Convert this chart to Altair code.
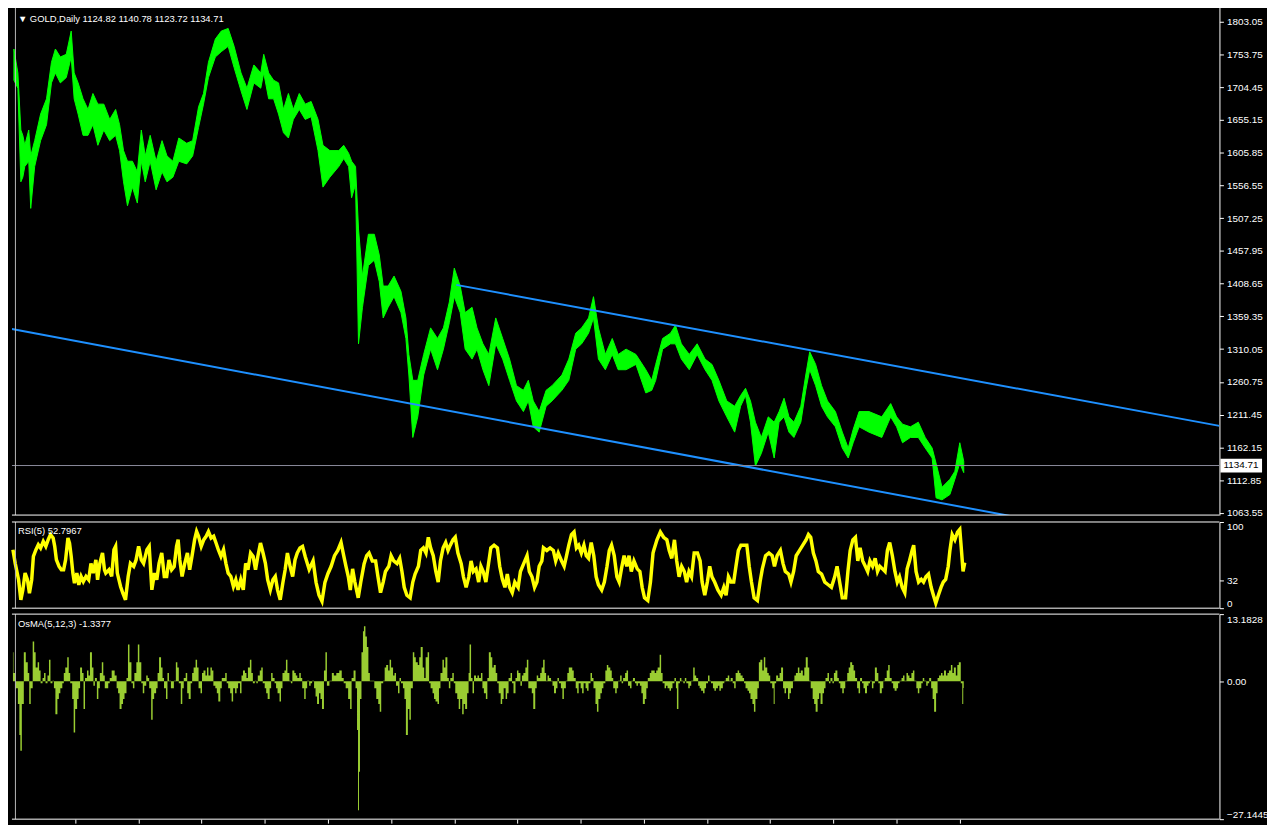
import altair as alt
import pandas as pd

TITLE_MAIN = "\u25BC  GOLD,Daily  1124.82 1140.78 1123.72 1134.71"
TITLE_RSI = "RSI(5) 52.7967"
TITLE_OSMA = "OsMA(5,12,3) -1.3377"
LAST_PRICE = 1134.71

price_ticks = [1803.05, 1753.75, 1704.45, 1655.15, 1605.85, 1556.55, 1507.25, 1457.95,
               1408.65, 1359.35, 1310.05, 1260.75, 1211.45, 1162.15, 1112.85, 1063.55]
rsi_ticks = [0, 32, 100]
osma_ticks = [-27.1445, 0, 13.1828]
time_ticks = [69, 133, 197, 261, 325, 389, 453, 517, 581, 645, 709, 773, 837, 901, 965]

# (bar, high, low)
price = [
(7,1762,1715),(11,1726,1703),(14,1640,1562),(16,1632,1569),(18,1617,1585),(22,1640,1593),(24,1601,1522),
(28,1624,1585),(34,1664,1624),(40,1687,1648),(45,1742,1711),(49,1762,1726),(54,1750,1711),(60,1754,1719),
(65,1789,1750),(68,1726,1687),(72,1711,1664),(77,1687,1632),(82,1671,1632),(87,1695,1648),(92,1679,1617),
(98,1679,1640),(104,1656,1624),(110,1671,1632),(114,1648,1609),(118,1609,1562),(122,1593,1526),(127,1593,1554),
(132,1577,1530),(136,1640,1593),(140,1601,1562),(145,1632,1593),(151,1593,1550),(157,1624,1577),(162,1601,1562),
(168,1593,1569),(174,1628,1593),(182,1620,1589),(188,1624,1601),(194,1675,1644),(199,1695,1679),(204,1742,1719),
(211,1777,1750),(217,1789,1758),(224,1793,1766),(230,1766,1734),(237,1726,1699),(243,1703,1671),(250,1738,1711),
(257,1726,1703),(260,1754,1726),(265,1726,1687),(270,1715,1687),(275,1711,1664),(280,1671,1636),(285,1695,1628),
(290,1671,1656),(296,1695,1671),(302,1679,1656),(308,1683,1660),(315,1656,1609),(320,1617,1554),(327,1609,1569),
(336,1609,1585),(341,1617,1597),(346,1605,1585),(349,1593,1538),(353,1585,1558),(356,1491,1318),(360,1420,1373),
(366,1483,1436),(372,1483,1444),(377,1452,1412),(381,1405,1357),(386,1405,1373),(392,1420,1389),(399,1397,1365),
(404,1357,1326),(407,1302,1271),(411,1263,1177),(416,1263,1208),(422,1302,1271),(429,1342,1310),(436,1326,1279),
(442,1342,1310),(448,1381,1350),(453,1432,1389),(459,1405,1365),(464,1365,1310),(471,1373,1295),(476,1342,1310),
(482,1318,1279),(488,1302,1255),(495,1357,1318),(502,1326,1295),(509,1295,1263),(516,1255,1232),(523,1248,1216),
(528,1263,1232),(533,1232,1193),(539,1216,1185),(546,1248,1224),(552,1255,1232),(562,1271,1248),(569,1295,1263),
(576,1334,1310),(582,1342,1318),(589,1357,1334),(594,1389,1357),(599,1342,1295),(606,1302,1279),(613,1326,1302),
(619,1302,1279),(627,1310,1279),(637,1302,1287),(647,1279,1244),(653,1263,1248),(657,1287,1263),(664,1326,1310),
(672,1334,1318),(677,1346,1318),(683,1318,1295),(691,1302,1279),(699,1318,1302),(707,1295,1279),(714,1287,1263),
(721,1263,1232),(729,1232,1208),(737,1224,1185),(743,1240,1224),(748,1251,1240),(753,1232,1200),(758,1200,1134),
(764,1177,1153),(771,1208,1185),(777,1200,1146),(782,1216,1200),(787,1236,1208),(792,1208,1185),(797,1200,1177),
(804,1224,1200),(809,1271,1248),(813,1306,1279),(819,1287,1255),(825,1255,1224),(831,1232,1208),(839,1216,1193),
(846,1185,1161),(852,1161,1146),(857,1189,1169),(863,1216,1193),(873,1216,1185),(886,1208,1177),(895,1228,1208),
(901,1208,1193),(907,1197,1169),(915,1193,1177),(923,1200,1177),(930,1177,1161),(937,1161,1146),(941,1138,1086),
(947,1102,1083),(955,1114,1091),(960,1126,1114),(965,1169,1138),(969,1141,1124)]

# (bar, rsi)
rsi = [
(6,67.8),(8.3,52),(11.7,33),(14,9.7),(16,21),(18.3,40.7),(20.7,33),(22.7,17.4),(25,33),(26.7,60),(29.3,67.8),
(31.7,73.6),(34,69.8),(36.7,77.5),(39.3,71.7),(41.7,79.5),(44,85.3),(46.7,81.4),(48.3,71.7),(50,56.2),(52.7,48.4),
(55,44.6),(57.3,44.6),(59.3,56),(61.7,81.4),(63.3,75.6),(65,60),(66.7,40.7),(68.3,29),(70.7,40.7),(72.7,27),
(75,36.8),(77.3,31),(80,36.8),(82.7,33),(85,52),(87.3,40.7),(90,56),(91.7,33),(94,52),(96.7,64),(98.7,44.6),
(100,40.7),(103.3,44.6),(106,36.8),(108.3,67.8),(110,71.7),(111.7,40.7),(115,25.2),(117.3,17.4),(120,9.7),
(122.7,36.8),(125,52),(128.3,48.4),(130.7,56),(133.3,71.7),(136,56),(138.3,52),(141.7,67.8),(144,71.7),
(146.7,21.3),(149.3,40.7),(151.7,33),(154,52),(156.7,64),(159.3,36.8),(161.7,36.8),(164,56),(166.7,44.6),
(169.3,48.4),(171.7,71.7),(173.3,79.5),(175,56),(177.3,36.8),(180,52),(182.7,64),(185,44.6),(187.3,60),
(190,79.5),(192,89),(194,83.4),(196.7,71.7),(199.3,79.5),(201.7,83.4),(204,89),(206.7,81.4),(209.3,83.4),
(211.7,75.6),(214,67.8),(216.7,60),(219.3,67.8),(221.7,52),(224,40.7),(226.7,36.8),(229.3,25.2),(231.7,33),
(234,21.3),(236.7,33),(239.3,21.3),(241.7,52),(244,44.6),(246.7,64),(249.3,60),(251.7,44.6),(254,60),(256.7,75.6),
(259.3,64),(261.7,52),(264,33),(266.7,21.3),(269.3,33),(271.7,36.8),(274,21.3),(276.7,9.7),(279.3,29),(281.7,44.6),
(284,64),(286.7,48.4),(289.3,36.8),(291.7,56),(294,64),(296.7,69.8),(299.3,71.7),(302,60),(306,45),(310,55),
(313,30),(316,15),(319,8),(322,30),(325,40),(328.3,48.6),(331.7,60.9),(335,67),(338.3,76.2),(341,60.9),
(343.3,48.6),(345.7,36.4),(347.7,21.1),(350,45.6),(352.3,30.3),(355.7,12),(358.3,30.3),(361.7,51.7),(364.3,60.9),
(366.7,64),(370,54.8),(373.3,54.8),(375.7,36.4),(378.3,18),(381,30.3),(383.3,42.6),(386.7,48.6),(389,60.9),
(391.7,54.8),(395,51.7),(397.7,57.8),(400,42.6),(402.3,24.2),(405,15),(408.3,12),(411,30.3),(413.3,39.5),
(416.7,48.6),(419,67),(421.7,70),(424.3,64),(426.7,82.3),(429,70),(431.7,60.9),(434.3,42.6),(436.7,30.3),
(439,54.8),(441.7,70),(444.3,76.2),(446.7,67),(449,73.1),(451.7,79.3),(454,82.3),(456.7,64),(460,51.7),
(462.3,36.4),(465,24.2),(467.7,36.4),(470,54.8),(472.3,42.6),(475,45.6),(477.7,30.3),(480,48.6),(482.3,42.6),
(485,30.3),(487.7,51.7),(490,70),(493.3,73.1),(496.7,70),(499,48.6),(501.7,33.4),(504.3,24.2),(506.7,39.5),
(509,24.2),(511.7,18),(514.3,30.3),(517.7,24.2),(520,42.6),(523.3,51.7),(526.7,60.9),(529,42.6),(531.7,36.4),
(534.3,24.2),(536.7,30.3),(539,48.6),(541.7,54.8),(543.3,70),(546.7,67),(550,70),(553.3,67),(555.7,54.8),
(558.3,64),(561.7,54.8),(564.3,48.6),(566.7,60.9),(569,73.1),(571.7,85.4),(574.3,88.4),(576.7,70),(579,73.1),
(581.7,64),(584.3,73.1),(586.7,60.9),(589,57.8),(591.7,76.2),(594.3,60.9),(596.7,36.4),(599,27.2),(602.3,21.1),
(605,30.3),(607.7,48.6),(610,67),(612.3,73.1),(615,60.9),(617.7,36.4),(620,30.3),(622.3,45.6),(625,60.9),
(627.7,48.6),(630,60.9),(632.3,42.6),(635,54.8),(638.3,45.6),(641,42.6),(643.3,24.2),(645.7,12),(649,8.9),
(651.7,30.3),(654.3,64),(655,67),(658.3,79.3),(661.7,88.4),(665,82.3),(668.3,79.3),(670.7,67),(673.3,57.8),
(676,79.3),(678.3,54.8),(680.7,36.4),(683.3,48.6),(686,42.6),(688.3,30.3),(690.7,42.6),(693.3,36.4),(696,64),
(699.3,64),(702,54.8),(704,30.3),(706.7,15),(709.3,30.3),(711.7,48.6),(714,36.4),(716.7,30.3),(720,21.1),
(723.3,15),(726,24.2),(728.3,15),(730.7,36.4),(733.3,30.3),(736,30.3),(738.3,48.6),(740.7,67),(743.3,73.1),
(746.7,73.1),(749.3,73.1),(751.7,48.6),(754,30.3),(756.7,12),(760,8.9),(762.7,30.3),(765,45.6),(768.3,60.9),
(771.7,64),(775,60.9),(777.3,48.6),(780,60.9),(783.3,67),(786,51.7),(788.3,42.6),(791.7,39.5),(794,30.3),
(796.7,42.6),(799.3,60.9),(802.7,67),(806,73.1),(809.3,79.3),(811.7,85.4),(814,82.3),(816.7,64),(819.3,54.8),
(821.7,42.6),(825,39.5),(828.3,30.3),(831.7,27.2),(835,24.2),(838.3,36.4),(840.7,48.6),(843.3,30.3),(846,12),
(849.3,12),(851.7,42.6),(854,67),(856.7,79.3),(859.3,82.3),(861.7,54.8),(864,70),(866.7,54.8),(869.3,48.6),
(871.7,42.6),(874,54.8),(876.7,48.6),(879.3,57.8),(881.7,42.6),(884,48.6),(886.7,45.6),(889.3,42.6),(891.7,67),
(894,76.2),(896.7,60.9),(899.3,42.6),(901.7,30.3),(904,36.4),(906.7,24.2),(909.3,18),(911.7,45.6),(914,54.8),
(916.7,67),(918.3,73.1),(920.7,42.6),(923.3,30.3),(926,33.4),(928.3,30.3),(930.7,36.4),(933.3,39.5),(936,24.2),
(938.3,15),(940.7,5.8),(943.3,15),(946,24.2),(948.3,30.3),(950.7,33.4),(953.3,48.6),(955,67),(957.3,85.4),
(960,79.3),(962.7,88.4),(965,91.5),(966.7,67),(968.3,42.6),(970,52.8)]

# (bar, osma)
osma = [
(6,5.7),(7,1.6),(10,-1.4),(12,-4.5),(13,-10.6),(14,-13.7),(16,-4.5),(18,5.7),(20,3.7),(22,1.6),(23,-4.5),(25,-1.4),
(27,7.8),(28,5.7),(30,2.7),(32,3.7),(33,2.1),(35,-0.4),(37,0.6),(38,1.6),(40,-0.4),(42,1.1),(43,4.2),(45,-0.4),
(47,0.1),(48,-1.4),(50,-6.5),(52,-3.5),(53,-2.4),(55,-1.4),(57,-0.4),(58,1.6),(60,2.7),(62,4.7),(63,1.6),(65,-0.4),
(67,-3.5),(68,-10.1),(70,-5.5),(72,-3.5),(73,-1.4),(75,2.7),(77,1.6),(78,-5.5),(80,0.6),(82,2.1),(83,1.1),(85,5.7),
(87,2.7),(88,-0.9),(90,0.6),(92,-3.5),(93,-1.4),(95,1.6),(97,3.7),(98,1.1),(100,-1.4),(102,-1.4),(103,-0.4),
(105,0.6),(107,2.1),(108,2.1),(110,1.1),(112,-1.4),(113,-2.4),(115,-5.5),(117,-4.5),(118,-3.5),(120,-2.4),(122,0.6),
(123,7.2),(125,3.7),(127,-0.4),(128,-1.4),(130,1.6),(132,3.7),(133,7.2),(135,3.7),(137,-0.4),(138,-2.4),(140,-0.9),
(142,1.1),(143,0.6),(145,-1.4),(147,-7.6),(148,-3.5),(150,-2.4),(152,-1.4),(153,1.6),(155,4.7),(157,2.7),(158,0.6),
(160,-1.4),(162,-3.5),(163,1.6),(165,0.1),(167,-1.4),(168,-1.4),(170,0.1),(172,3.7),(173,2.7),(175,-0.4),(177,-4.5),
(178,-1.4),(180,0.6),(182,1.6),(183,-2.4),(185,-3.5),(187,-0.4),(188,1.6),(190,2.7),(192,4.2),(193,2.7),(195,-1.4),
(197,-2.4),(198,1.6),(200,2.1),(202,1.1),(203,2.7),(205,1.1),(207,2.7),(208,2.1),(210,-0.9),(212,-1.4),(213,-2.4),
(215,-4),(217,-1.4),(218,0.6),(220,0.6),(222,1.6),(223,-0.4),(225,-1.4),(227,-2.4),(228,-4),(230,-1.4),(232,-2.4),
(233,-1.4),(235,-0.4),(237,-2.4),(238,1.1),(240,2.1),(242,1.6),(243,0.6),(245,2.7),(247,4.2),(248,1.6),(250,-0.4),
(252,0.1),(253,-0.4),(255,1.1),(257,2.1),(258,2.7),(260,-0.4),(262,-1.4),(263,-2.4),(265,-3.5),(267,-1.4),(268,1.6),
(270,0.6),(272,-0.4),(273,-1.4),(275,-2.4),(277,-4),(278,-1.4),(280,1.6),(282,2.1),(283,4.2),(285,1.6),(287,0.1),
(288,-0.4),(290,2.1),(292,1.6),(293,1.1),(295,0.6),(297,1.6),(298,0.6),(300,-1.4),(302,-3.5),(303,-1.4),(305,0.1),
(307,-0.9),(308,-0.4),(310,0.1),(312,-1.4),(313,-3),(315,-4.5),(317,-2.4),(318,-3.5),(320,-5.5),(322,2.1),(323,5.7),
(325,-0.9),(328,0.1),(330,1.6),(332,1.1),(335,1.6),(338,2.1),(340,0.6),(342,-0.4),(344,-1.4),(347,-3.5),(348,-5.5),
(350,0.6),(352,2.1),(354,-1.4),(355,-9.6),(356,-25.4),(357,-17.8),(358,-3.5),(360,5.7),(361,9.8),(362,10.8),
(364,8.8),(365,6.7),(367,1.6),(368,0.1),(371,0.1),(373,-1.4),(375,-3.5),(377,-4.5),(378,-6),(380,-0.4),(382,0.1),
(383,2.7),(385,3.2),(387,2.1),(388,4.2),(390,2.7),(392,1.1),(393,1.6),(395,-0.9),(397,-2.4),(398,0.6),(400,-0.4),
(402,-1.4),(403,-3.5),(405,-10.6),(407,-5.5),(408,-7.6),(410,-1.4),(412,5.7),(413,4.7),(415,3.7),(417,3.2),
(418,4.7),(420,6.7),(422,2.7),(423,0.6),(425,4.7),(427,5.7),(428,-0.4),(430,-1.4),(432,-2.4),(433,-3.5),(435,-4),
(437,-4.5),(438,-1.4),(440,1.6),(442,4.2),(443,2.7),(445,4.7),(447,0.6),(448,-1.4),(450,0.6),(452,1.6),(453,-0.4),
(455,-2.4),(457,-3.5),(458,-5.5),(460,-3.5),(462,-6.5),(463,-4.5),(465,-5.5),(467,-2.4),(468,1.6),(469,7.2),
(471,0.6),(472,-2.4),(474,1.1),(476,0.6),(477,1.1),(479,0.6),(481,1.6),(482,-1.4),(484,-2.4),(486,-3.5),(487,0.6),
(489,5.7),(491,4.7),(492,2.7),(494,3.2),(496,1.6),(497,-0.4),(499,-2.4),(501,-4.5),(502,-3.5),(504,-1.4),(506,-3.5),
(507,-2.4),(509,0.6),(511,1.6),(512,-0.4),(514,-2.4),(516,0.6),(517,2.1),(519,1.6),(521,-0.9),(522,1.1),(524,1.6),
(526,2.7),(527,4.2),(529,-1.4),(531,-1.4),(532,-2.4),(534,-5.5),(536,-1.4),(537,1.1),(539,0.6),(541,1.6),(542,2.7),
(544,4.2),(545,1.6),(547,0.1),(548,1.1),(550,0.6),(552,0.1),(553,-0.9),(555,-2.4),(557,-1.4),(558,0.6),(560,-0.4),
(562,-1.4),(563,-3.5),(565,-1.4),(567,0.1),(568,1.6),(570,2.7),(572,2.7),(573,2.1),(575,0.6),(577,-1.4),(578,-2.4),
(580,-0.4),(582,-1.4),(583,-2.4),(585,-0.4),(587,-1.4),(588,-1.9),(590,-0.4),(592,1.6),(593,0.6),(595,-1.4),
(597,-4.5),(598,-6),(600,-3.5),(602,-2.4),(603,-1.4),(605,-0.4),(607,2.1),(608,3.2),(610,2.7),(612,2.1),(613,0.6),
(615,-1.4),(617,-2.4),(618,-1.4),(620,0.1),(622,1.1),(623,-0.4),(625,0.6),(627,1.6),(628,2.1),(630,-0.9),(632,-1.4),
(633,0.1),(635,0.6),(637,-0.4),(638,-0.9),(640,-0.4),(642,-0.9),(643,-2.4),(645,-4.5),(647,-3.5),(648,-1.4),
(650,0.6),(652,1.6),(653,2.1),(655,2.1),(657,1.6),(658,2.1),(660,2.7),(662,5.2),(663,1.6),(665,-0.4),(667,-1.4),
(668,-0.9),(670,-1.4),(672,-1.9),(673,-1.4),(675,-0.4),(677,0.6),(678,-1.4),(679,-5.5),(681,-0.4),(682,0.6),
(684,0.1),(686,-0.4),(687,0.6),(689,-0.4),(691,-1.4),(692,-0.9),(694,0.1),(696,2.7),(697,1.1),(699,0.6),(701,-0.9),
(702,-1.4),(704,-1.9),(706,-2.4),(707,-1.4),(709,-0.4),(711,1.1),(712,0.1),(714,-0.4),(716,-1.4),(717,-1.9),
(719,-1.4),(721,-0.9),(722,-1.9),(724,-1.4),(726,-0.4),(727,0.1),(729,0.6),(731,1.1),(732,0.1),(734,0.6),(736,-0.4),
(737,-1.4),(739,1.6),(741,2.1),(742,1.6),(744,1.1),(746,0.6),(747,-0.4),(749,-1.4),(751,-1.9),(752,-2.4),(754,-3.5),
(756,-4.5),(757,-6),(759,-3.5),(761,-1.4),(762,3.7),(764,4.2),(766,2.1),(767,4.7),(769,2.7),(771,1.6),(772,1.1),
(774,-0.4),(776,-1.4),(777,-4.5),(778,-0.4),(780,1.1),(782,0.6),(783,1.6),(785,2.7),(787,-1.4),(788,-2.4),(790,-1.4),
(792,-3.5),(793,-2.4),(795,-1.4),(797,0.1),(798,1.1),(800,1.6),(802,2.7),(803,1.6),(805,2.1),(807,1.1),(808,2.7),
(810,4.7),(812,2.7),(813,0.1),(815,-1.4),(817,-3.5),(818,-4.5),(820,-6),(822,-3.5),(823,-2.4),(825,-4.5),(827,-2.4),
(828,-1.4),(830,0.6),(832,1.6),(833,-0.4),(835,0.6),(837,-0.4),(838,1.6),(840,2.1),(842,0.6),(843,-0.4),(845,-1.4),
(847,-2.4),(848,-1.4),(850,0.1),(852,1.6),(853,2.7),(855,3.7),(857,3.2),(858,2.1),(860,0.6),(862,-1.4),(863,-2.4),
(865,0.6),(867,-0.4),(868,-1.4),(870,-2.4),(872,-0.9),(873,-0.4),(875,0.1),(877,-1.4),(878,-0.4),(880,2.7),(882,1.6),
(883,-0.4),(885,-2.4),(887,-1.4),(888,0.1),(890,0.6),(892,2.1),(893,3.2),(895,0.6),(897,-0.4),(898,-1.4),(900,-1.9),
(902,-1.4),(903,-0.4),(905,0.1),(907,0.6),(908,1.1),(910,0.1),(912,1.6),(913,1.1),(915,0.6),(917,1.6),(918,2.1),
(920,0.1),(922,-1.4),(923,-2.4),(925,-1.4),(927,-0.4),(928,0.6),(930,0.1),(932,-0.9),(933,-0.4),(935,0.6),(937,-1.4),
(938,-3.5),(940,-6),(942,-2.4),(943,0.6),(945,1.1),(947,1.6),(948,1.1),(950,2.1),(952,1.1),(953,1.6),(955,2.1),
(957,3.2),(958,1.6),(960,2.7),(962,1.1),(963,3.2),(965,3.7),(967,-0.4),(968,-4.5),(969,-1.3377)]

channel_upper = [(455, 1406.8), (1228, 1194.4)]
channel_lower = [(5, 1340.3), (1228, 999.7)]

# ---------------- layout / style ----------------
W = 1219
H_MAIN, H_RSI, H_OSMA = 515, 87, 207
FONT = "Liberation Sans"
GREEN = "#00FF00"
YELLOW = "#FFFF00"
OSMA_C = "#9ACD32"
BLUE = "#1E90FF"
FRAME = "#ffffff"
LEFT_FRAME = "#b8b8b8"

price_df = pd.DataFrame(price, columns=["bar", "hi", "lo"])
rsi_df = pd.DataFrame(rsi, columns=["bar", "rsi"])
osma_df = pd.DataFrame(osma, columns=["bar", "v"])
chan_df = pd.DataFrame(
    [("upper", b, p) for b, p in channel_upper] + [("lower", b, p) for b, p in channel_lower],
    columns=["line", "bar", "price"])
one = pd.DataFrame({"k": [0]})

xscale = alt.Scale(domain=[5, 1228], nice=False, zero=False)
x_none = alt.X("bar:Q", scale=xscale, axis=None)


def raxis(values, **kw):
    return alt.Axis(orient="right", values=values, tickCount=len(values) + 4, title=None, grid=False,
                    labelOverlap=False, labelColor="white", tickColor="white", domainColor="white",
                    labelFont=FONT, labelFontSize=10, tickSize=4, labelPadding=3, **kw)


def frame(h, top=True):
    parts = [
        alt.Chart(one).mark_rule(color=LEFT_FRAME, strokeWidth=1).encode(
            x=alt.value(3.5), y=alt.value(0), y2=alt.value(h)),
        alt.Chart(one).mark_rule(color=FRAME, strokeWidth=1).encode(
            x=alt.value(0), x2=alt.value(W), y=alt.value(h)),
    ]
    if top:
        parts.append(alt.Chart(one).mark_rule(color=FRAME, strokeWidth=1).encode(
            x=alt.value(0), x2=alt.value(W), y=alt.value(0)))
    return parts


def label(text, y):
    return alt.Chart(pd.DataFrame({"t": [text]})).mark_text(
        align="left", baseline="middle", color="white", font=FONT, fontSize=9.5).encode(
        x=alt.value(6), y=alt.value(y), text="t:N")


yscale_main = alt.Scale(domain=[1060.1, 1828.4], nice=False, zero=False)

band = alt.Chart(price_df).mark_area(color=GREEN, stroke=GREEN, strokeWidth=1, opacity=1).encode(
    x=x_none,
    y=alt.Y("hi:Q", scale=yscale_main, axis=raxis(price_ticks, format=".2f")),
    y2="lo:Q")

chan = alt.Chart(chan_df).mark_line(color=BLUE, strokeWidth=2, clip=True).encode(
    x=x_none, y="price:Q", detail="line:N")

hline = alt.Chart(pd.DataFrame({"p": [LAST_PRICE]})).mark_rule(color="#8c8c9c", strokeWidth=1).encode(
    y="p:Q")

box = alt.Chart(pd.DataFrame({"p": [LAST_PRICE]})).mark_point(
    shape="M-1,-0.33H1V0.33H-1Z", filled=True, color="white", opacity=1, size=1764, clip=False).encode(
    x=alt.value(W + 22), y="p:Q")

boxtext = alt.Chart(pd.DataFrame({"p": [LAST_PRICE], "t": ["1134.71"]})).mark_text(
    align="left", baseline="middle", color="black", font=FONT, fontSize=10, clip=False).encode(
    x=alt.value(W + 4), y="p:Q", text="t:N")

main = alt.layer(band, chan, hline, box, boxtext, label(TITLE_MAIN, 14),
                 *frame(H_MAIN, top=False)).properties(width=W, height=H_MAIN)

rsi_line = alt.Chart(rsi_df).mark_line(color=YELLOW, strokeWidth=3.5).encode(
    x=x_none,
    y=alt.Y("rsi:Q", scale=alt.Scale(domain=[0, 100], nice=False),
            axis=raxis(rsi_ticks, format="d", labelFlush=True)))
rsi_panel = alt.layer(rsi_line, label(TITLE_RSI, 9), *frame(H_RSI)).properties(width=W, height=H_RSI)

osma_area = alt.Chart(osma_df).mark_area(color=OSMA_C, interpolate="step", opacity=1).encode(
    x=alt.X("bar:Q", scale=xscale,
            axis=alt.Axis(values=time_ticks, tickCount=len(time_ticks) + 4, labels=False, ticks=True,
                          tickColor="white", tickSize=4, domain=False, grid=False, title=None)),
    y=alt.Y("v:Q", scale=alt.Scale(domain=[-27.1445, 13.1828], nice=False, zero=False),
            axis=raxis(osma_ticks, labelFlush=True,
                       labelExpr="datum.value == 0 ? '0.00' : format(datum.value, '.4f')")),
    y2=alt.datum(0))
osma_panel = alt.layer(osma_area, label(TITLE_OSMA, 10), *frame(H_OSMA)).properties(width=W, height=H_OSMA)

PAD = {"left": -3, "top": -8, "right": -1, "bottom": -2}
chart = alt.vconcat(main, rsi_panel, osma_panel, spacing=3, padding=PAD).configure(
    background="black", padding=PAD).configure_view(strokeWidth=0)

chart.save("out.html", embed_options={"renderer": "svg", "actions": False})
